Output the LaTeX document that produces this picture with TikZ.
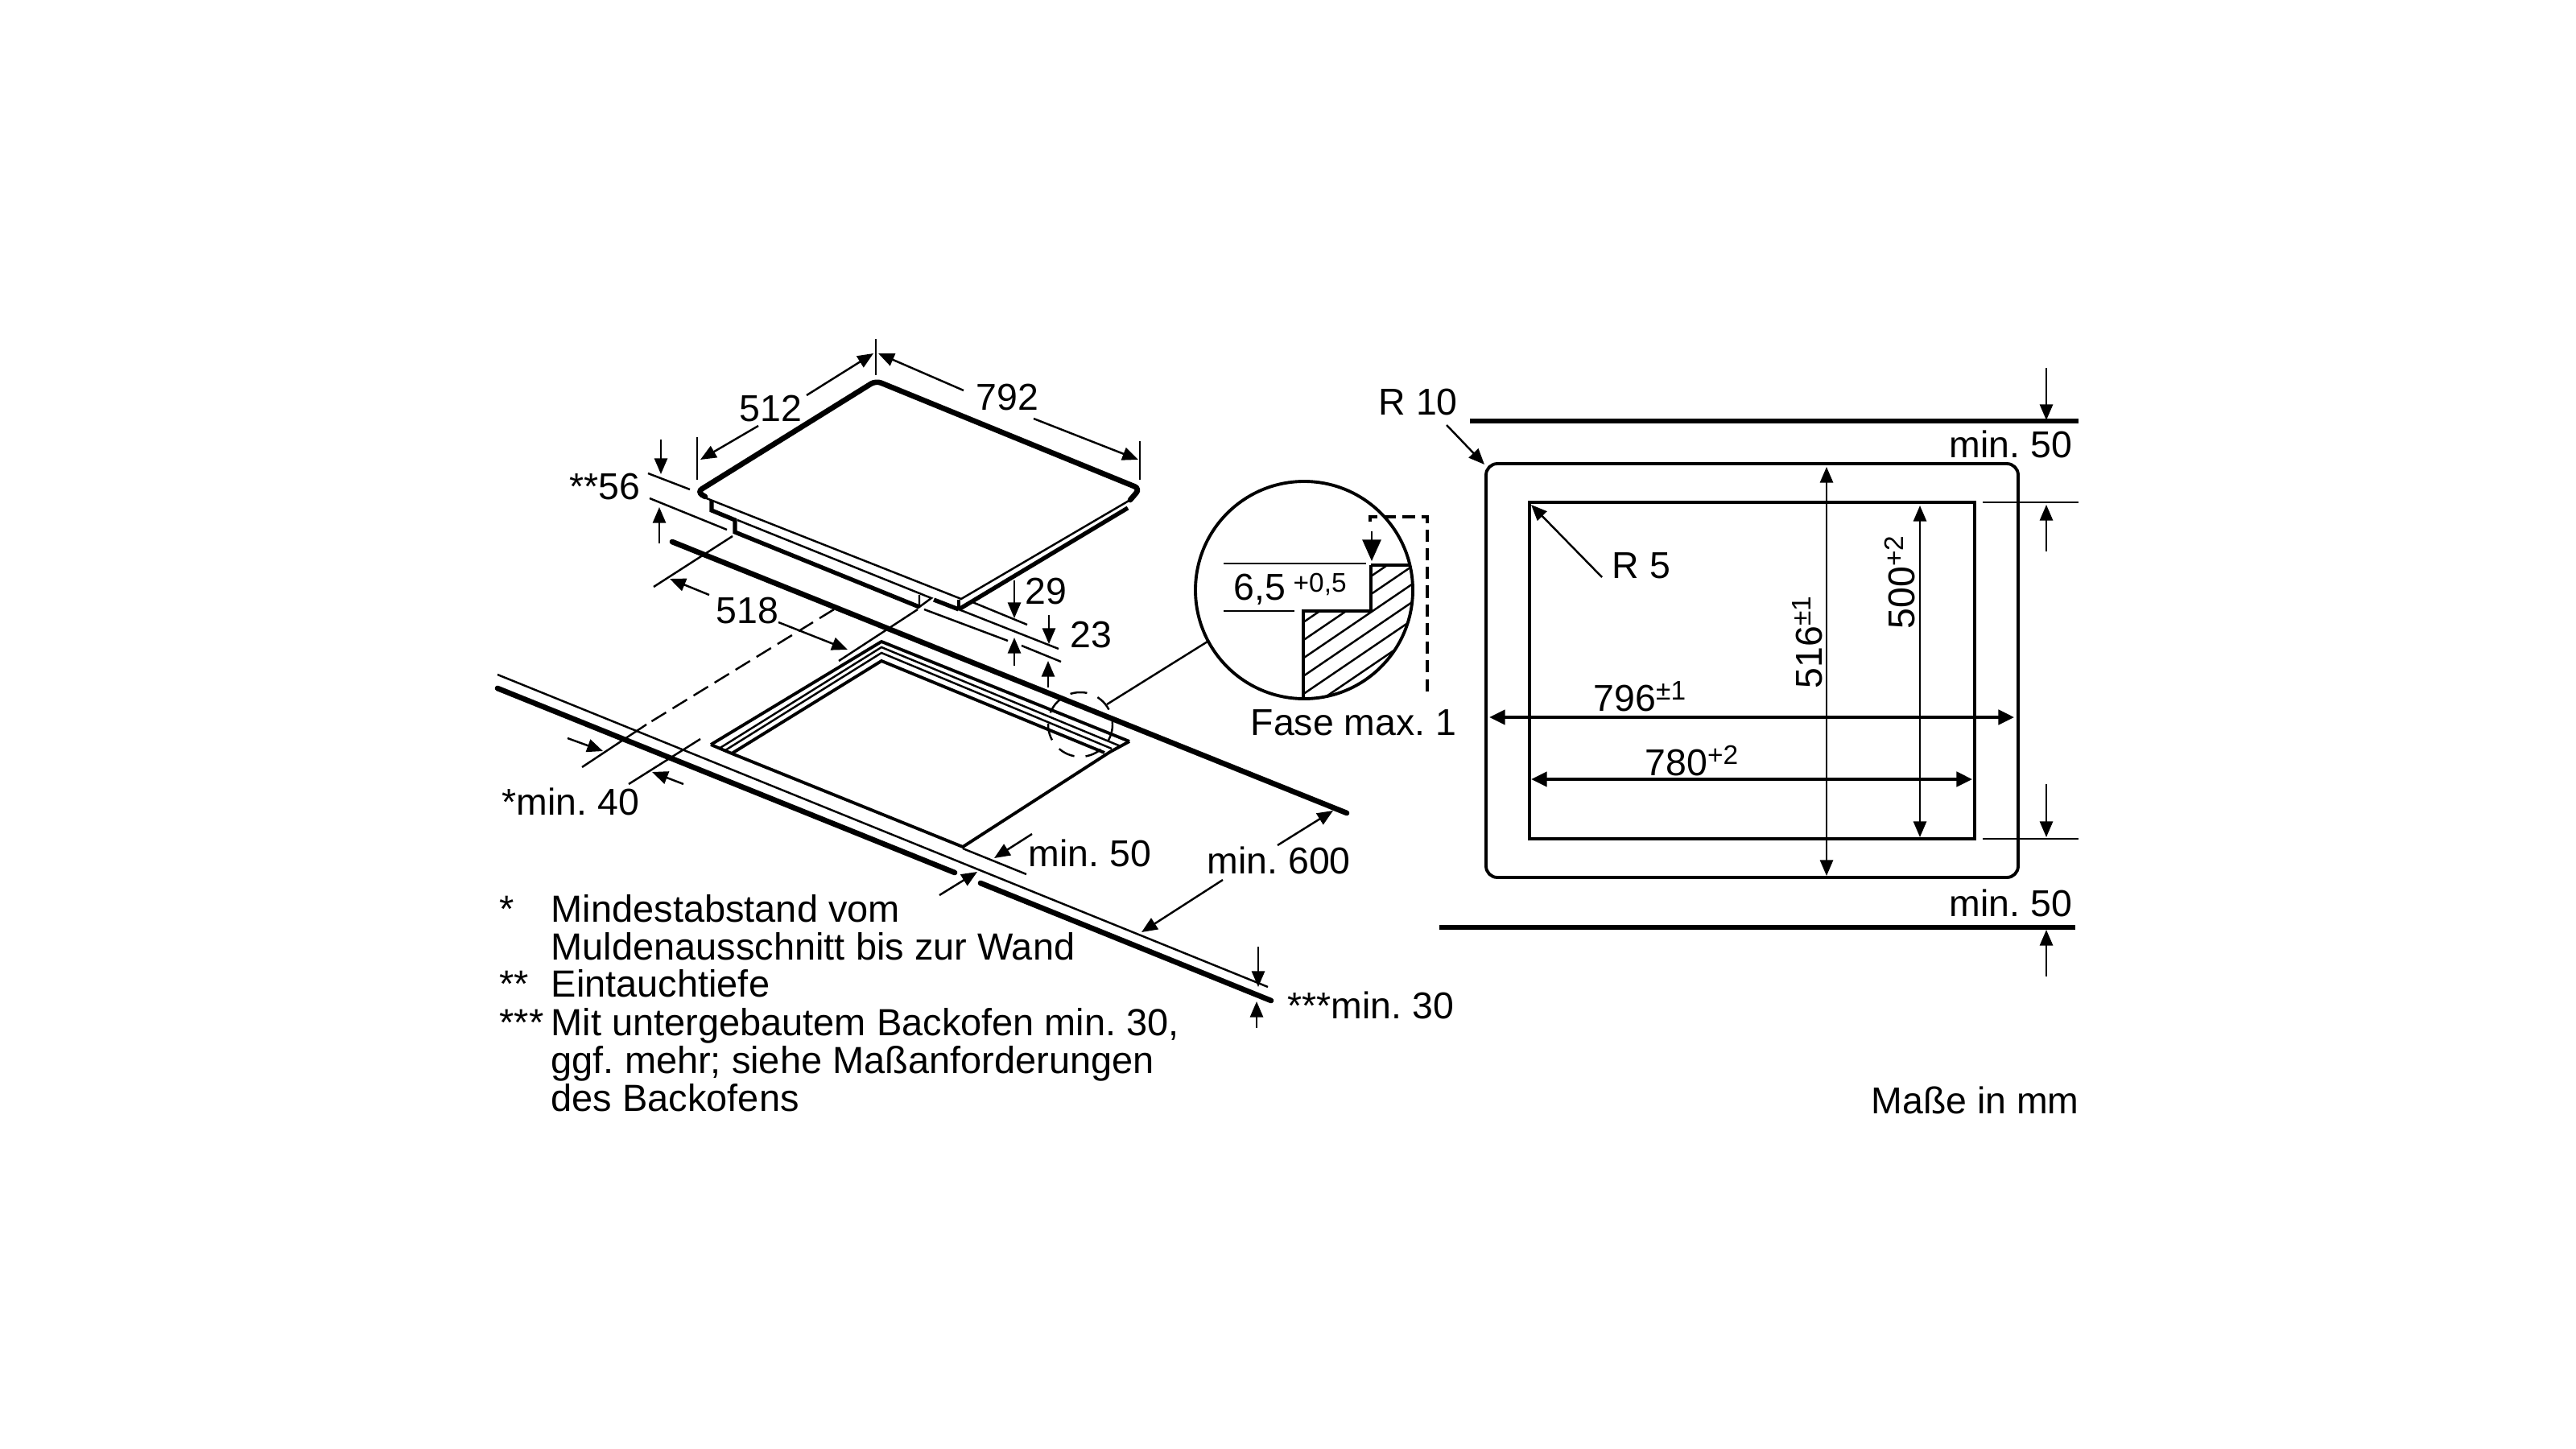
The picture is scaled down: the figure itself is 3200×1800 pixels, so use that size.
\documentclass[tikz,border=0pt]{standalone}
\usepackage{fontspec}
\setmainfont{Liberation Sans}
\usetikzlibrary{arrows.meta}
\newcommand{\tolsup}[1]{\raisebox{3.8pt}{\fontsize{9.5pt}{10pt}\selectfont #1}}

\begin{document}
\frenchspacing
\begin{tikzpicture}[x=0.01cm, y=-0.01cm]
\tikzstyle{every node}+=[inner sep=0pt, anchor=base west, font=\fontsize{13.2pt}{14pt}\selectfont]
\tikzstyle{legendtext}=[font=\fontsize{13.35pt}{14pt}\selectfont]
\tikzstyle{fineline}=[black, line width=0.7pt]
\tikzstyle{midline}=[black, line width=1.1pt]
\tikzstyle{stepline}=[black, line width=1.5pt]
\tikzstyle{heavyline}=[black, line width=1.9pt, line cap=round]
\tikzstyle{dimarrow}=[fineline, -{Triangle[length=5.6pt, width=4.6pt]}]
\tikzstyle{dimtwoway}=[fineline, {Triangle[length=5.6pt, width=4.6pt]}-{Triangle[length=5.6pt, width=4.6pt]}]
\tikzstyle{dimboth}=[midline, {Triangle[length=5.6pt, width=5.2pt]}-{Triangle[length=5.6pt, width=5.2pt]}]
\useasboundingbox (0,0) rectangle (3200,1800);
% hob
\draw [heavyline, rounded corners=2pt] (1404,621) -- (1416,607) -- (1088,473) -- (866,611) -- (876,617);
\draw [fineline] (870,616) -- (1194,744) -- (1404,621);
\draw [stepline] (1191,757) -- (1401,631);
\draw [stepline] (884,621) -- (884,634) -- (913,646) -- (913,661) -- (1142,754);
\draw [fineline] (916,646) -- (1157,743) -- (1142,754) -- (1142,739);
\draw [stepline] (1160,745) -- (1191,757);
\draw [midline] (1191,757) -- (1191,745);
% hob dimensions
\draw [fineline] (1088,421) -- (1088,466);
\draw [fineline] (866,543) -- (866,596);
\draw [fineline] (1416,548) -- (1416,596);
\draw [dimarrow] (1002,491) -- (1085,439);
\draw [dimarrow] (942,529) -- (870,571);
\draw [dimarrow] (1197,485) -- (1091,439);
\draw [dimarrow] (1284,520) -- (1414,571);
\node (lab512) at (918,523) {512};
\node (lab792) at (1212,509) {792};
\draw [dimarrow] (821,546) -- (821,589);
\draw [dimarrow] (819,675) -- (819,630);
\draw [fineline] (805,588) -- (857,608);
\draw [fineline] (807,619) -- (903,658);
\node (lab56) at (707,620) {**56};
\draw [fineline] (910,666) -- (812,729);
\draw [dimarrow] (881,739) -- (832,719);
\draw [dimarrow] (967,773) -- (1053,807);
\draw [fineline] (1140,757) -- (1042,821);
\node (lab518) at (889,774) {518};
% 29 and 23
\draw [fineline] (1208,748) -- (1276,776);
\draw [fineline] (1191,757) -- (1315,806);
\draw [fineline] (1148,757) -- (1252,796);
\draw [fineline] (1269,802) -- (1318,822);
\draw [dimarrow] (1260,721) -- (1260,768);
\draw [dimarrow] (1303,764) -- (1303,800);
\draw [dimarrow] (1260,827) -- (1260,792);
\draw [dimarrow] (1302,854) -- (1302,821);
\node (lab29) at (1273,750) {29};
\node (lab23) at (1329,804) {23};
% worktop
\draw [heavyline] (835,673) -- (1673,1010);
\draw [fineline] (618,838) -- (1575,1226);
\draw [heavyline] (618,855) -- (1186,1084);
\draw [heavyline] (1218,1097) -- (1579,1243);
% cut-out
\draw [midline] (883,925) -- (1095,797) -- (1403,921);
\draw [fineline] (893,930) -- (1095,804) -- (1392,927);
\draw [fineline] (901,932) -- (1095,811) -- (1381,930);
\draw [midline] (909,936) -- (1095,821) -- (1372,935);
\draw [midline] (883,925) -- (909,936) -- (1196,1052) -- (1379,934) -- (1403,921);
% wall distance
\draw [fineline, dash pattern=on 6pt off 2.7pt] (1036,757) -- (803,900);
\draw [fineline] (803,900) -- (723,953);
\draw [fineline] (870,918) -- (781,974);
\draw [dimarrow] (705,917) -- (749,933);
\draw [dimarrow] (849,974) -- (810,959);
\node (labforty) at (623,1012) {*min. 40};
\draw [fineline] (1196,1054) -- (1275,1086);
\draw [dimarrow] (1282,1036) -- (1235,1066);
\draw [dimarrow] (1167,1112) -- (1214,1083);
\node (labfifty) at (1277,1076) {min. 50};
\draw [dimarrow] (1587,1050) -- (1656,1007);
\draw [dimarrow] (1519,1093) -- (1418,1158);
\node (labsixhundred) at (1499,1085) {min. 600};
\draw [dimarrow] (1563,1176) -- (1563,1226);
\draw [dimarrow] (1561,1277) -- (1561,1244);
\node (labthirty) at (1599,1265) {***min. 30};
% legend
\node [legendtext] (starone) at (620,1145) {*};
\node [legendtext] (legendone) at (684,1145) {Mindestabstand vom};
\node [legendtext] (legendtwo) at (684,1192) {Muldenausschnitt bis zur Wand};
\node [legendtext] (startwo) at (620,1238) {**};
\node [legendtext] (legendthree) at (684,1238) {Eintauchtiefe};
\node [legendtext] (starthree) at (620,1286) {***};
\node [legendtext] (legendfour) at (684,1286) {Mit untergebautem Backofen min. 30,};
\node [legendtext] (legendfive) at (684,1333) {ggf. mehr; siehe Maßanforderungen};
\node [legendtext] (legendsix) at (684,1380) {des Backofens};
% detail circle
\draw [fineline, dash pattern=on 6pt off 4pt] (1342,900) circle (40);
\draw [fineline] (1375,875) -- (1500,797);
\draw [midline] (1620,733) circle (135);
\begin{scope}
\clip (1620,733) circle (135);
\clip (1703,703) -- (1703,759) -- (1619,759) -- (1619,870) -- (1760,870) -- (1760,703) -- cycle;
\foreach \k in {0,...,8}
  \draw [fineline] (1619,773+22.3*\k) -- (1819,637+22.3*\k);
\end{scope}
\draw [midline] (1703,702) -- (1750,702);
\draw [midline] (1703,702) -- (1703,759) -- (1619,759) -- (1619,867);
\draw [fineline] (1520,700) -- (1697,700);
\draw [fineline] (1520,759) -- (1608,759);
\draw [fineline, -{Triangle[length=7.6pt, width=6.6pt]}] (1704,660) -- (1704,697);
\draw [black, line width=0.9pt, dash pattern=on 4.3pt off 2.3pt] (1702,648) -- (1702,642) -- (1773,642) -- (1773,863);
\node (labchamfer) at (1532,745) {6,5};
\node (labchamfertol) at (1606,735) {\fontsize{9.5pt}{10pt}\selectfont +0,5};
\node (labfase) at (1553,913) {Fase max. 1};
% cut-out plan
\draw [heavyline, line cap=butt] (1826,523) -- (2582,523);
\draw [heavyline, line cap=butt] (1788,1152) -- (2578,1152);
\draw [midline, rounded corners=4pt] (1846,576) rectangle (2507,1090);
\draw [midline] (1900,624) rectangle (2453,1042);
\draw [fineline] (2463,624) -- (2582,624);
\draw [fineline] (2463,1042) -- (2582,1042);
\draw [dimarrow] (2542,457) -- (2542,522);
\draw [dimarrow] (2542,685) -- (2542,627);
\draw [dimarrow] (2542,974) -- (2542,1040);
\draw [dimarrow] (2542,1213) -- (2542,1155);
\node (labtopgap) at (2421,568) {min. 50};
\node (labbottomgap) at (2421,1138) {min. 50};
\draw [dimtwoway] (2269,580) -- (2269,1088);
\draw [dimtwoway] (2385,628) -- (2385,1040);
\draw [dimboth] (1850,891) -- (2502,891);
\draw [dimboth] (1902,968) -- (2450,968);
\node (labouterw) at (1979,883) {796\tolsup{±1}};
\node (labinnerw) at (2043,963) {780\tolsup{+2}};
\node [rotate=90] (labouterh) at (2263,856) {516\tolsup{±1}};
\node [rotate=90] (labinnerh) at (2378,782) {500\tolsup{+2}};
\node (labrten) at (1712,515) {R 10};
\draw [dimarrow] (1797,528) -- (1844,577);
\node (labrfive) at (2002,718) {R 5};
\draw [dimarrow] (1990,717) -- (1902,627);
\node (labunits) at (2324,1383) {Maße in mm};
\end{tikzpicture}
\end{document}
